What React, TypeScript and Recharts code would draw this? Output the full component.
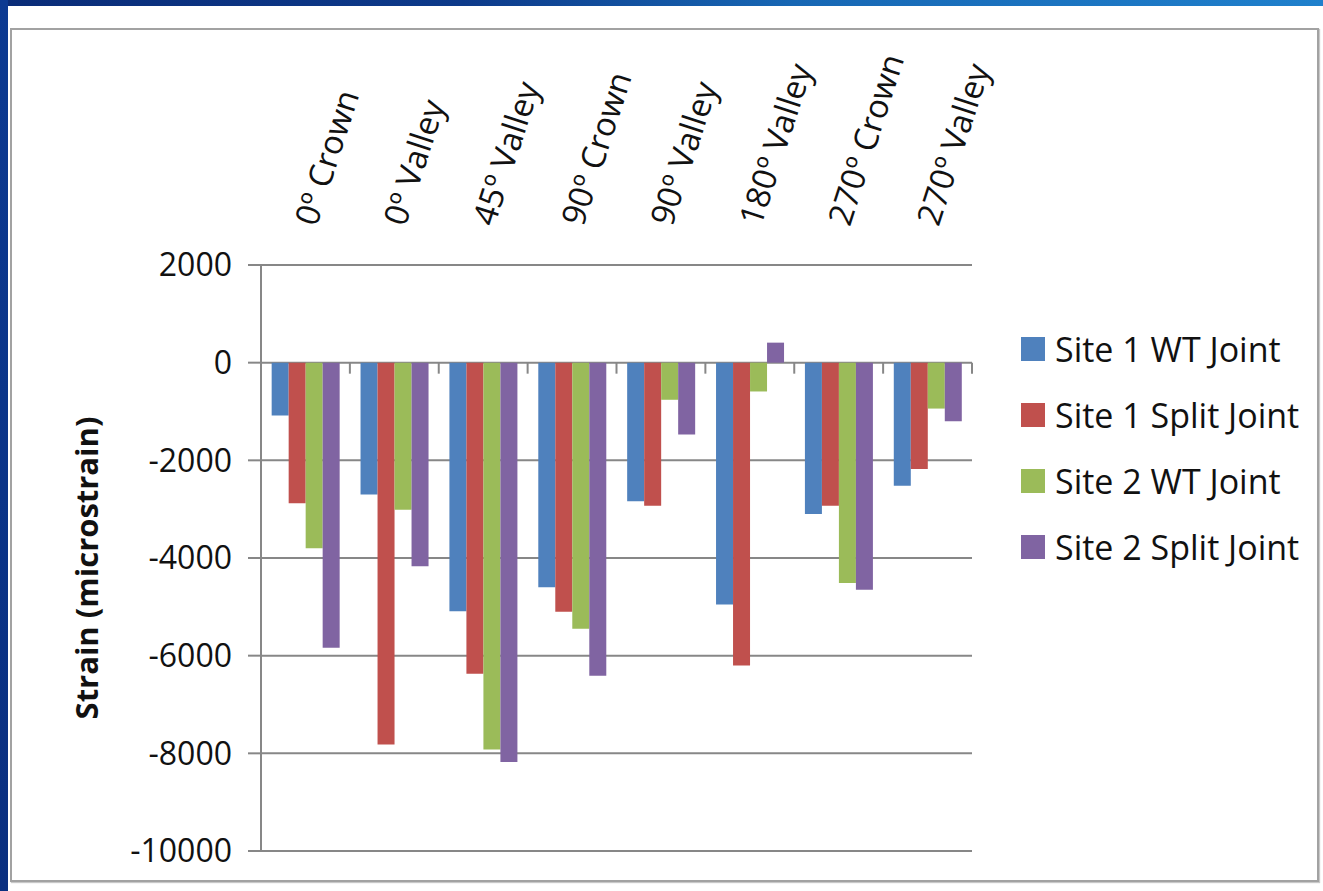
import { BarChart, Bar, XAxis, YAxis, CartesianGrid, Label } from "recharts";

const CATEGORIES = [
  "0º Crown",
  "0º Valley",
  "45º Valley",
  "90º Crown",
  "90º Valley",
  "180º Valley",
  "270º Crown",
  "270º Valley",
];

const SITE1_WT = [-1080, -2700, -5090, -4600, -2840, -4950, -3100, -2520];
const SITE1_SPLIT = [-2880, -7820, -6370, -5100, -2930, -6200, -2930, -2180];
const SITE2_WT = [-3800, -3010, -7920, -5450, -760, -590, -4510, -940];
const SITE2_SPLIT = [-5840, -4170, -8180, -6410, -1470, 410, -4650, -1200];

const Y_TICKS = [2000, 0, -2000, -4000, -6000, -8000, -10000];
const Y_TITLE = "Strain (microstrain)";

const SERIES = [
  { key: "s1wt", label: "Site 1 WT Joint", color: "#4F81BD", values: SITE1_WT },
  { key: "s1split", label: "Site 1 Split Joint", color: "#C0504D", values: SITE1_SPLIT },
  { key: "s2wt", label: "Site 2 WT Joint", color: "#9BBB59", values: SITE2_WT },
  { key: "s2split", label: "Site 2 Split Joint", color: "#8064A2", values: SITE2_SPLIT },
];

const data = CATEGORIES.map((name, i) => {
  const row: Record<string, string | number> = { name };
  SERIES.forEach((s) => (row[s.key] = s.values[i]));
  return row;
});

// layout
const W = 1323;
const H = 891;
const MARGIN = { top: 65, right: 351, bottom: 40, left: 20 };
const X_AXIS_H = 200;
const Y_AXIS_W = 241;
const PLOT_TOP = MARGIN.top + X_AXIS_H;
const PLOT_H = H - PLOT_TOP - MARGIN.bottom;
const PLOT_W = W - MARGIN.left - Y_AXIS_W - MARGIN.right;
const BAND = PLOT_W / CATEGORIES.length;
const ZERO_Y = PLOT_TOP + (Y_TICKS[0] / (Y_TICKS[0] - Y_TICKS[Y_TICKS.length - 1])) * PLOT_H;

const FONT = "'Open Sans', 'Noto Sans', sans-serif";
const TEXT = "#111";
const GRAY = "#878787";

// category label above the plot, plus the tick mark on the zero line
function CategoryTick({ x, y, payload, index }: any) {
  const left = x - BAND / 2;
  return (
    <g>
      <line x1={left} x2={left} y1={ZERO_Y} y2={ZERO_Y + 11} stroke={GRAY} strokeWidth={2} />
      {index === CATEGORIES.length - 1 && (
        <line x1={left + BAND} x2={left + BAND} y1={ZERO_Y} y2={ZERO_Y + 11} stroke={GRAY} strokeWidth={2} />
      )}
      <text
        transform={`translate(${x},${y}) rotate(-72)`}
        textAnchor="start"
        dy="0.35em"
        fontSize={33}
        fontFamily={FONT}
        fill={TEXT}
      >
        {payload.value}
      </text>
    </g>
  );
}

function YTitle({ viewBox }: any) {
  const cx = viewBox.x + 67;
  const cy = viewBox.y + viewBox.height / 2 + 10;
  return (
    <text
      transform={`translate(${cx},${cy}) rotate(-90)`}
      textAnchor="middle"
      dy="0.35em"
      fontSize={31}
      fontWeight={700}
      fontFamily={FONT}
      fill={TEXT}
    >
      {Y_TITLE}
    </text>
  );
}

export default function App() {
  return (
    <div
      style={{
        position: "absolute",
        left: 0,
        top: 0,
        width: W,
        height: H,
        background: "#fff",
        overflow: "hidden",
        fontFamily: FONT,
      }}
    >
      {/* slide edge */}
      <div
        style={{
          position: "absolute",
          left: 0,
          top: 0,
          width: W,
          height: 6,
          background: "linear-gradient(90deg, #0a2c78 0%, #0d3a8a 35%, #1767b4 60%, #1f80cc 100%)",
        }}
      />
      <div
        style={{
          position: "absolute",
          left: 0,
          top: 0,
          width: 8,
          height: H,
          background: "linear-gradient(180deg, #0c3a92 0%, #0a2f80 100%)",
        }}
      />
      {/* chart frame */}
      <div
        style={{
          position: "absolute",
          left: 10,
          top: 28,
          width: 1309,
          height: 854,
          boxSizing: "border-box",
          border: "2px solid #a2a2a2",
          boxShadow: "1px 1px 1px #c8c8c8",
        }}
      />

      <div style={{ position: "absolute", left: 0, top: 0 }}>
        <BarChart width={W} height={H} data={data} margin={MARGIN} barCategoryGap="12%" barGap={0}>
          <CartesianGrid vertical={false} stroke={GRAY} strokeWidth={2} />
          <XAxis
            dataKey="name"
            orientation="top"
            height={X_AXIS_H}
            axisLine={false}
            tickLine={false}
            tickSize={0}
            tickMargin={41}
            interval={0}
            tick={<CategoryTick />}
          />
          <YAxis
            domain={[Y_TICKS[Y_TICKS.length - 1], Y_TICKS[0]]}
            ticks={Y_TICKS}
            width={Y_AXIS_W}
            tickSize={13}
            tickMargin={16}
            axisLine={{ stroke: GRAY, strokeWidth: 2 }}
            tickLine={{ stroke: GRAY, strokeWidth: 2 }}
            tick={{ fill: TEXT, fontSize: 32, fontFamily: FONT }}
          >
            <Label content={<YTitle />} />
          </YAxis>
          {SERIES.map((s) => (
            <Bar key={s.key} dataKey={s.key} name={s.label} fill={s.color} isAnimationActive={false} />
          ))}
        </BarChart>
      </div>

      {/* legend */}
      <div style={{ position: "absolute", left: 1021, top: 316 }}>
        {SERIES.map((s) => (
          <div key={s.key} style={{ display: "flex", alignItems: "center", height: 66 }}>
            <span style={{ width: 24, height: 24, background: s.color, display: "inline-block" }} />
            <span style={{ marginLeft: 10, fontSize: 34, color: TEXT, lineHeight: 1 }}>{s.label}</span>
          </div>
        ))}
      </div>
    </div>
  );
}
